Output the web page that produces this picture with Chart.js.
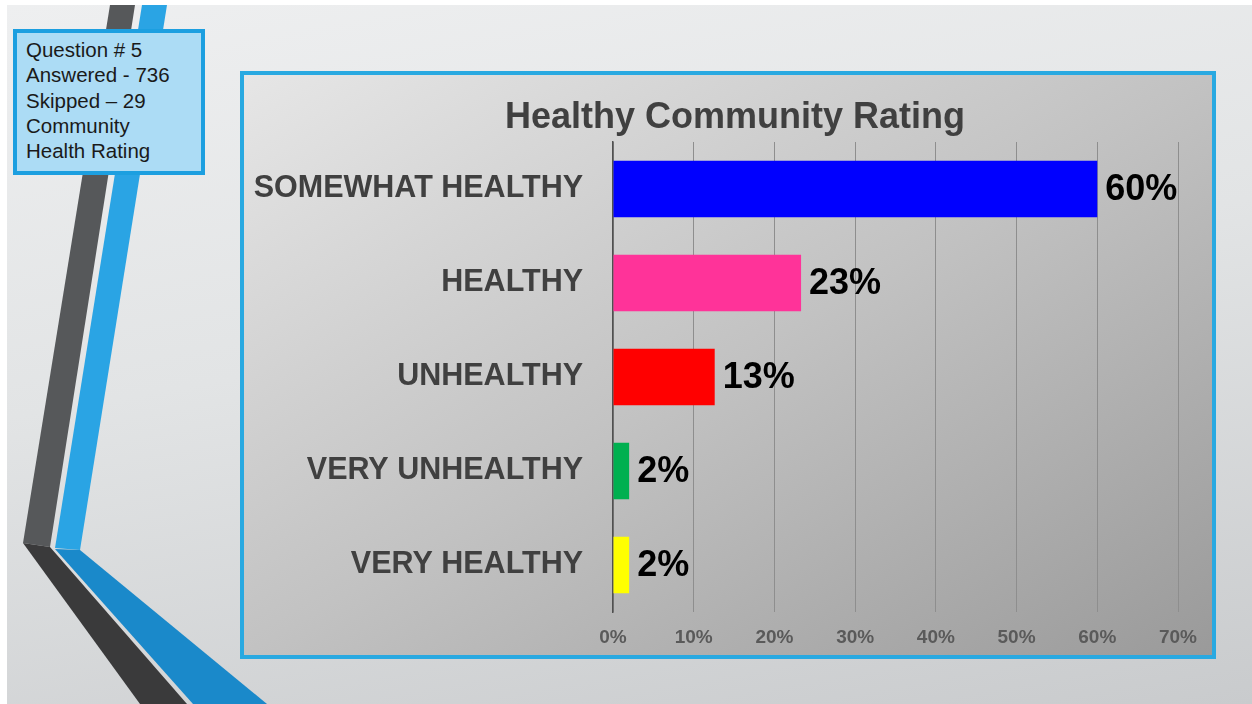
<!DOCTYPE html>
<html>
<head>
<meta charset="utf-8">
<script src="https://cdn.jsdelivr.net/npm/chart.js@4/dist/chart.umd.min.js"></script>
<style>
  html, body { margin: 0; padding: 0; background: #fff; }
  #slide {
    position: absolute; left: 7px; top: 5px; width: 1245px; height: 699px;
    background: linear-gradient(170deg, #eeeff0 0%, #e2e4e5 45%, #c9cbcd 100%);
  }
  #stripes { position: absolute; left: 0; top: 0; }
  #note {
    position: absolute; left: 13px; top: 29px; width: 175px; height: 134px;
    border: 4px solid #1c9fe0; background: #acdcf5;
    font-family: "Liberation Sans", Arial, sans-serif; font-size: 20.5px; line-height: 25.3px;
    color: #1a1a1a; padding: 4px 0 0 9px;
  }
  #note div { white-space: nowrap; }
  #panel {
    position: absolute; left: 240px; top: 71px; width: 968px; height: 580px;
    border: 4px solid #29a9e1;
    background: linear-gradient(to bottom right, #e6e6e6 0%, #c2c2c2 50%, #9a9a9a 100%);
  }
  #chart { display: block; }
</style>
</head>
<body>
<div id="slide"></div>
<svg id="stripes" width="1252" height="704">
  <polygon points="110,5 135,5 50,547 23,543" fill="#56585a"/>
  <polygon points="142,5 167,5 80,550 55,548" fill="#2aa4e4"/>
  <polygon points="23,543 50,547 187,704 140,704" fill="#3a3a3b"/>
  <polygon points="55,549 80,550 267,704 193,704" fill="#1a89ca"/>
</svg>
<div id="note">
  <div>Question # 5</div>
  <div>Answered - 736</div>
  <div>Skipped – 29</div>
  <div>Community</div>
  <div>Health Rating</div>
</div>
<div id="panel"><canvas id="chart" width="968" height="580"></canvas></div>
<script>
// ─── Data ──────────────────────────────────────────────────────
const categories = ['SOMEWHAT HEALTHY', 'HEALTHY', 'UNHEALTHY', 'VERY UNHEALTHY', 'VERY HEALTHY'];
const shares = [60, 23.3, 12.6, 2, 2];
const barColors = ['#0000ff', '#ff3399', '#ff0000', '#00b050', '#ffff00'];
const xTicks = [0, 10, 20, 30, 40, 50, 60, 70];
const chartTitle = 'Healthy Community Rating';

const FONT = '"Liberation Sans", Arial, sans-serif';

// value labels to the right of each bar, plus the title (centred on the panel)
const annotate = {
    id: 'annotate',
    afterDatasetsDraw(chart) {
        const ctx = chart.ctx;
        const meta = chart.getDatasetMeta(0);
        ctx.save();
        ctx.font = 'bold 36px ' + FONT;
        ctx.fillStyle = '#000';
        ctx.textAlign = 'left';
        ctx.textBaseline = 'middle';
        meta.data.forEach((bar, i) => {
            ctx.fillText(Math.round(shares[i]) + '%', bar.x + 8, bar.y + 1);
        });
        ctx.font = 'bold 36px ' + FONT;
        ctx.fillStyle = '#404040';
        ctx.textAlign = 'center';
        ctx.fillText(chartTitle, chart.width / 2 + 7, 43);
        ctx.restore();
    }
};

new Chart(document.getElementById('chart'), {
    type: 'bar',
    data: {
        labels: categories,
        datasets: [{
            data: shares,
            backgroundColor: barColors,
            borderWidth: 0,
            barPercentage: 0.6,
            categoryPercentage: 1
        }]
    },
    options: {
        indexAxis: 'y',
        responsive: false,
        animation: false,
        layout: { padding: { top: 67, right: 34, bottom: 10, left: 0 } },
        scales: {
            x: {
                min: xTicks[0],
                max: xTicks[xTicks.length - 1],
                afterBuildTicks: s => { s.ticks = xTicks.map(v => ({ value: v })); },
                afterFit: s => { s.height = 33; },
                grid: { color: '#8e8e8e', lineWidth: 1, drawTicks: false },
                border: { display: false },
                ticks: {
                    padding: 14,
                    maxRotation: 0,
                    color: '#5a5a5a',
                    font: { family: FONT, size: 19, weight: 'bold' },
                    callback: v => v + '%'
                }
            },
            y: {
                afterFit: s => { s.width = 369; },
                grid: { color: 'transparent', drawTicks: true, tickLength: 30 },
                border: { display: true, color: '#505050', width: 1.5 },
                ticks: {
                    padding: 0,
                    color: '#404040',
                    font: { family: FONT, size: 30.5, weight: 'bold' }
                }
            }
        },
        plugins: {
            legend: { display: false },
            tooltip: { enabled: false },
            title: { display: false }
        }
    },
    plugins: [annotate]
});
</script>
</body>
</html>
